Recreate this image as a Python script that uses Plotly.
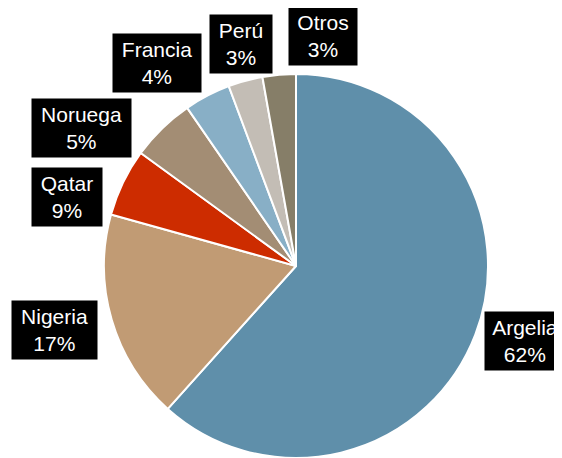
import plotly.graph_objects as go

# slice data (angles), plus the printed labels
countries = ["Argelia", "Nigeria", "Qatar", "Noruega", "Francia", "Perú", "Otros"]
shares = [61.7, 17.7, 5.7, 5.4, 3.9, 2.9, 2.8]
label_pct = ["62%", "17%", "9%", "5%", "4%", "3%", "3%"]

COLORS = ["#5F8FAA", "#C19B74", "#CD2C00", "#A38D74", "#88AFC6", "#C3BDB5", "#867E68"]

W, H = 562, 458
OFF = 8  # page body margin shifts the figure by 8px


def px_x(sx):
    return (sx - OFF) / W


def px_y(sy):
    return 1 - (sy - OFF) / H


# label box centres in screen px and box widths
LABEL_POS = [(525, 341), (54, 330), (67, 197), (81, 128), (157, 63), (241, 44), (323, 36)]
LABEL_W = [80, 85, 70, 99, 88, 62, 68]

fig = go.Figure()
fig.add_trace(go.Pie(
    labels=countries,
    values=shares,
    sort=False,
    direction="clockwise",
    rotation=0,
    marker=dict(colors=COLORS, line=dict(color="white", width=2)),
    textinfo="none",
    hoverinfo="label+percent",
    showlegend=False,
    domain=dict(x=[px_x(104), px_x(488)], y=[px_y(458), px_y(74)]),
))

for name, pct, (sx, sy), bw in zip(countries, label_pct, LABEL_POS, LABEL_W):
    fig.add_annotation(
        x=px_x(sx), y=px_y(sy), xref="paper", yref="paper",
        xanchor="center", yanchor="middle",
        text=f"{name}<br>{pct}",
        showarrow=False,
        font=dict(family="Liberation Sans, Arial", size=21, color="white"),
        bgcolor="black",
        borderpad=2,
        width=bw - 4,
        height=54,
        align="center",
    )

fig.update_layout(
    width=W, height=H,
    margin=dict(l=0, r=0, t=0, b=0),
    paper_bgcolor="white",
    plot_bgcolor="white",
)

fig.write_html("out.html")
